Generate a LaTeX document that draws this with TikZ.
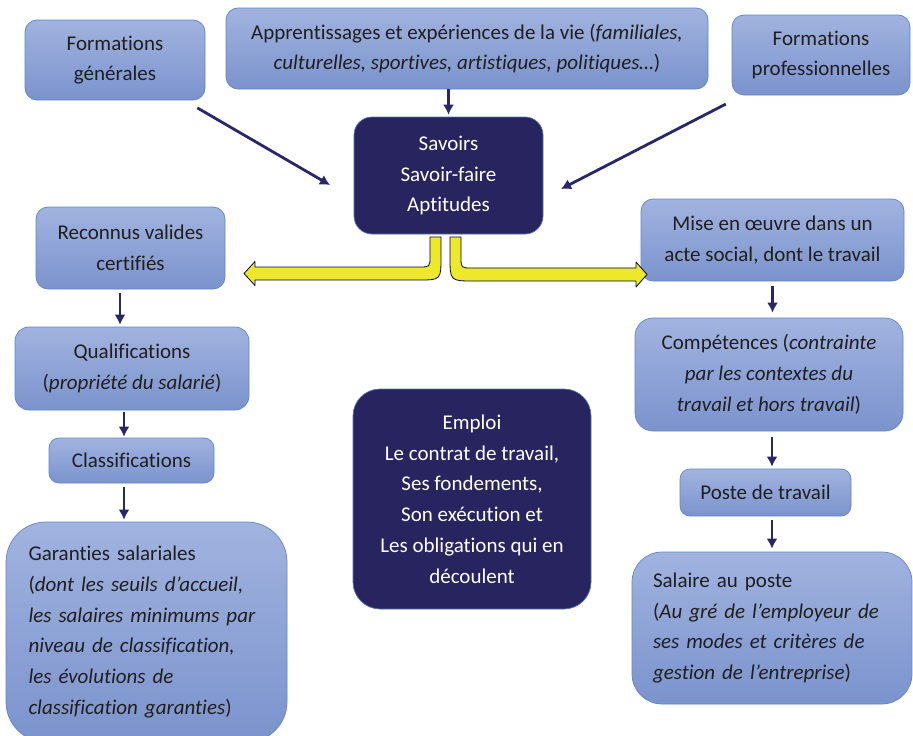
\documentclass[tikz,border=0pt]{standalone}
\usepackage{fontspec}
\setmainfont{Carlito}[RawFeature={-liga;-clig;-calt;-dlig}]
\usepackage{tikz}
\usetikzlibrary{arrows.meta, shapes}

\definecolor{bleuhaut}{HTML}{A1B3DF}
\definecolor{bleubas}{HTML}{7B93CD}
\definecolor{bleubord}{HTML}{5F86C9}
\definecolor{marine}{HTML}{28245F}
\definecolor{fleche}{HTML}{2A2769}
\definecolor{jaune}{HTML}{EDE82A}
\definecolor{texte}{HTML}{1F1F1F}

\begin{document}
\begin{tikzpicture}[x=1pt, y=-1pt,
				>={Latex[length=10pt,width=11pt]},   %Pfeilspitzen
				boite/.style={draw=bleubord, line width=0.7pt, top color=bleuhaut, bottom color=bleubas, text=texte, inner sep=0pt, align=center, rounded corners=#1, font=\fontsize{21}{30.8}\selectfont},
				boite/.default=12pt,
				sombre/.style={draw=bleubord!80!marine, line width=0.7pt, fill=marine, text=white, inner sep=0pt, align=center, rounded corners=#1, font=\fontsize{21}{30.8}\selectfont},
				sombre/.default=18pt,
				lien/.style={->, draw=fleche, line width=2.8pt, shorten <=4pt, shorten >=2pt},
				bande/.style={fill=jaune, draw=black!70!blue, line width=0.8pt, line join=round}]
				%Rahmen
				\useasboundingbox (0,0) rectangle (913,736);
				% Sources
				\node[boite, minimum width=180pt, minimum height=80pt] (fg) at (115,60) {Formations\\générales};
				\node[boite, minimum width=482pt, minimum height=81pt] (app) at (467,48.5) {Apprentissages et expériences de la vie (\textit{familiales,}\\\textit{culturelles, sportives, artistiques, politiques…})};
				\node[boite, minimum width=178pt, minimum height=80pt] (fp) at (821,55) {Formations\\professionnelles};
				\node[sombre, minimum width=189pt, minimum height=117pt] (sav) at (448.5,175.5) {Savoirs\\Savoir-faire\\Aptitudes};
				% Branche gauche
				\node[boite, minimum width=189pt, minimum height=82pt] (rv) at (130.5,248) {Reconnus valides\\certifiés};
				\node[boite=14pt, minimum width=234pt, minimum height=83pt] (qual) at (132,368.5) {Qualifications\\(\textit{propriété du salarié})};
				\node[boite=10pt, minimum width=165pt, minimum height=45pt] (cla) at (131.5,460.5) {Classifications};
				\node[boite=40pt, minimum height=220pt, text width=236pt, inner xsep=22.5pt, align=left] (gar) at (146.5,632) {Garanties salariales\\(\textit{dont les seuils d’accueil,}\\\textit{les salaires minimums par}\\\textit{niveau de classification,}\\\textit{les évolutions de}\\\textit{classification garanties})};
				% Branche droite
				\node[boite, minimum width=263pt, minimum height=82pt] (mise) at (772.5,240) {Mise en œuvre dans un\\acte social, dont le travail};
				\node[boite=18pt, minimum width=268pt, minimum height=113pt] (comp) at (769,374.5) {Compétences (\textit{contrainte}\\\textit{par les contextes du}\\\textit{travail et hors travail})};
				\node[boite=10pt, minimum width=171pt, minimum height=47pt] (poste) at (765.5,492.5) {Poste de travail};
				\node[boite=30pt, minimum height=152pt, text width=238pt, inner xsep=21pt, align=left] (sal) at (772,628) {Salaire au poste\\(\textit{Au gré de l’employeur de}\\\textit{ses modes et critères de}\\\textit{gestion de l’entreprise})};
				% Centre
				\node[sombre=27pt, minimum width=238pt, minimum height=220pt] (emp) at (472,499) {Emploi\\Le contrat de travail,\\Ses fondements,\\Son exécution et\\Les obligations qui en\\découlent};
				%Pfeile
				\coordinate (pfg) at (330,185);
				\coordinate (pfp) at (561,189);
				\draw[lien, shorten <=15pt, shorten >=0pt] (fg) -- (pfg);
				\draw[lien, shorten <=19pt, shorten >=0pt] (fp) -- (pfp);
				\draw[lien, shorten <=0pt] (sav.north |- app.south) -- (sav.north);
				\draw[lien] ([xshift=-10.5pt]rv.south) -- ([xshift=-10.5pt]rv.south |- qual.north);
				\draw[lien, shorten <=2pt, shorten >=1pt] ([xshift=-8pt]qual.south) -- ([xshift=-8pt]qual.south |- cla.north);
				\draw[lien] ([xshift=-7.5pt]cla.south) -- ([xshift=-7.5pt]cla.south |- gar.north);
				\draw[lien, shorten <=5pt, shorten >=5pt] (mise.south) -- (mise.south |- comp.north);
				\draw[lien, shorten <=6pt] ([xshift=3pt]comp.south) -- ([xshift=3pt]comp.south |- poste.north);
				\draw[lien, shorten >=3pt] ([xshift=6.5pt]poste.south) -- ([xshift=6.5pt]poste.south |- sal.north);
				%gelbe Doppelpfeile
				\filldraw[bande] (441,237) -- (441,257) .. controls (441,280) .. (418,280) -- (255,280) -- (255,285.5) -- (244,273.5) -- (255,261.5) -- (255,267) -- (419,267) .. controls (430,267) .. (430,256) -- (430,237) -- cycle;
				\filldraw[bande] (450,237) -- (450,257) .. controls (450,281) .. (474,281) -- (636,281) -- (636,287) -- (647,274.5) -- (636,262) -- (636,268) -- (472,268) .. controls (461,268) .. (461,257) -- (461,237) -- cycle;
			\end{tikzpicture}
\end{document}
